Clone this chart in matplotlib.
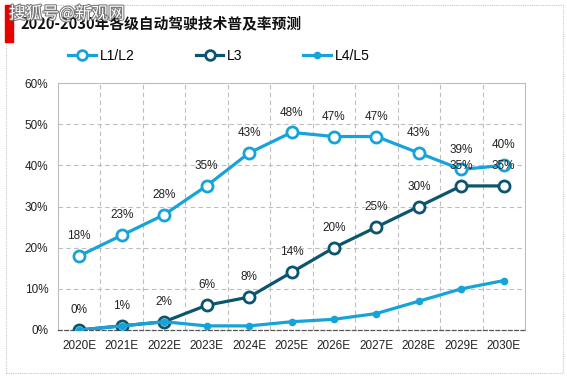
import matplotlib
matplotlib.use("Agg")
import matplotlib.pyplot as plt
from matplotlib.patches import Rectangle
from matplotlib.lines import Line2D
import matplotlib.patheffects as pe

categories = ["2020E", "2021E", "2022E", "2023E", "2024E", "2025E",
              "2026E", "2027E", "2028E", "2029E", "2030E"]
l12 = [18, 23, 28, 35, 43, 48, 47, 47, 43, 39, 40]
l3 = [0, 1, 2, 6, 8, 14, 20, 25, 30, 35, 35]
l45 = [0, 1, 2, 1, 1, 2, 2.6, 4, 7, 10, 12]
yticks = [0, 10, 20, 30, 40, 50, 60]

c_light = "#16A3DA"
c_dark = "#0B566E"

plt.rcParams['font.family'] = ['Liberation Sans', 'Noto Sans CJK SC', 'DejaVu Sans']

W, H = 567, 378
fig = plt.figure(figsize=(W / 100, H / 100), dpi=100)
fig.patch.set_facecolor("white")

# outer frame
fig.patches.append(Rectangle((6 / W, 1 - 373 / H), (563 - 6) / W, (373 - 5) / H,
                             transform=fig.transFigure, fill=False,
                             edgecolor="#C8C8C8", lw=0.8, ls=(0, (1, 1))))
# red bar
fig.patches.append(Rectangle((5 / W, 1 - 42 / H), 8 / W, 37 / H,
                             transform=fig.transFigure, color="#E60000"))
fig.text(20 / W, 1 - 23 / H, "2020-2030年各级自动驾驶技术普及率预测",
         family=['Noto Sans CJK SC', 'DejaVu Sans'], fontweight="bold",
         fontsize=10.6, color="#111111", va="center", ha="left")
fig.text(9 / W, 1 - 14 / H, "搜狐号@新观网",
         family=['Noto Sans CJK SC', 'DejaVu Sans'], fontsize=12,
         color="white", va="center", ha="left",
         path_effects=[pe.withStroke(linewidth=1.5, foreground="#777777")], zorder=10)

ax = fig.add_axes([58 / W, 1 - 330 / H, (525 - 58) / W, (330 - 83) / H])
x = list(range(len(categories)))

ax.plot(x, l12, color=c_light, lw=2.3, marker="o", ms=8, mfc="white",
        mec=c_light, mew=2.0, zorder=3, label="L1/L2")
ax.plot(x, l3, color=c_dark, lw=2.3, marker="o", ms=8, mfc="white",
        mec=c_dark, mew=2.0, zorder=4, label="L3")
ax.plot(x, l45, color=c_light, lw=2.3, marker="o", ms=4.5, mfc=c_light,
        mec=c_light, zorder=5, label="L4/L5")

for xi, v in zip(x, l12):
    ax.annotate(f"{v}%", (xi, v), xytext=(0, 10), textcoords="offset points",
                ha="center", va="bottom", fontsize=8.5, color="#222222", zorder=6)
for xi, v in zip(x, l3):
    ax.annotate(f"{v}%", (xi, v), xytext=(0, 10), textcoords="offset points",
                ha="center", va="bottom", fontsize=8.5, color="#222222", zorder=6)

ax.set_xlim(-0.5, len(categories) - 0.5)
ax.set_ylim(0, 60)
ax.set_yticks(yticks)
ax.set_yticklabels([f"{t}%" for t in yticks])
ax.set_xticks(x)
ax.set_xticklabels(categories)
ax.tick_params(length=0, labelsize=8.5, colors="#222222")
ax.tick_params(axis="y", pad=7)
ax.tick_params(axis="x", pad=7)

for t in yticks[1:-1]:
    ax.axhline(t, color="#BEBEBE", lw=0.8, ls=(0, (4, 3)), zorder=1)
for b in [i + 0.5 for i in range(len(categories) - 1)]:
    ax.axvline(b, color="#BEBEBE", lw=0.8, ls=(0, (4, 3)), zorder=1)

for s in ["top", "left", "right"]:
    ax.spines[s].set_color("#BDBDBD")
    ax.spines[s].set_linewidth(0.8)
    ax.spines[s].set_linestyle((0, (1, 1)))
ax.spines["bottom"].set_color("#555555")
ax.spines["bottom"].set_linewidth(0.9)
ax.spines["bottom"].set_linestyle((0, (3, 2)))

handles = [
    Line2D([], [], color=c_light, lw=2.3, marker="o", ms=7, mfc="white", mec=c_light, mew=2.0),
    Line2D([], [], color=c_dark, lw=2.3, marker="o", ms=7, mfc="white", mec=c_dark, mew=2.0),
    Line2D([], [], color=c_light, lw=2.3, marker="o", ms=4.5, mfc=c_light, mec=c_light),
]
fig.legend(handles, ["L1/L2", "L3", "L4/L5"], loc="center",
           bbox_to_anchor=(219 / W, 1 - 56 / H), ncol=3, frameon=False,
           fontsize=10, handlelength=2.0, handletextpad=0.25, columnspacing=4.4)

fig.savefig("out.png", dpi=100, facecolor="white")
